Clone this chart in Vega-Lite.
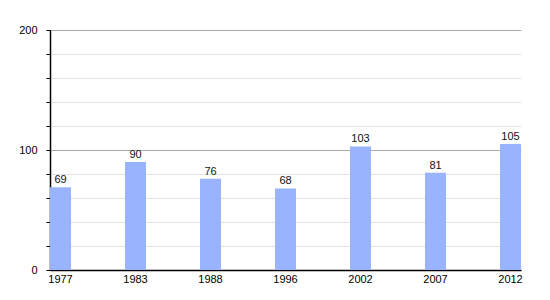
{
  "$schema": "https://vega.github.io/schema/vega-lite/v6.json",
  "autosize": {"type": "none"},
  "padding": {"left": 50, "top": 30, "right": 29, "bottom": 30},
  "width": 471,
  "height": 240,
  "background": "white",
  "config": {
    "view": {"stroke": null},
    "font": "Liberation Sans"
  },
  "data": {
    "values": [
      {"year": "1977", "value": 69},
      {"year": "1983", "value": 90},
      {"year": "1988", "value": 76},
      {"year": "1996", "value": 68},
      {"year": "2002", "value": 103},
      {"year": "2007", "value": 81},
      {"year": "2012", "value": 105}
    ]
  },
  "encoding": {
    "x": {
      "field": "year",
      "type": "nominal",
      "sort": null,
      "scale": {"paddingInner": 0.72, "paddingOuter": 0},
      "axis": {
        "title": null,
        "labelAngle": 0,
        "ticks": false,
        "labelPadding": 3,
        "labelFontSize": 11,
        "labelColor": "#000",
        "domainColor": "#000",
        "domainWidth": 1.5,
        "grid": false
      }
    },
    "y": {
      "field": "value",
      "type": "quantitative",
      "scale": {"domain": [0, 200], "nice": false},
      "axis": {
        "title": null,
        "values": [0, 20, 40, 60, 80, 100, 120, 140, 160, 180, 200],
        "labelExpr": "datum.value % 100 === 0 ? datum.label : ''",
        "tickSize": 4,
        "tickColor": "#000",
        "labelPadding": 9,
        "labelFontSize": 11,
        "labelColor": "#000",
        "domainColor": "#000",
        "domainWidth": 1.5,
        "grid": true,
        "gridColor": {"condition": {"test": "datum.value % 100 === 0", "value": "#aaaaaa"}, "value": "#e2e2e2"},
        "gridWidth": 1
      }
    }
  },
  "layer": [
    {"mark": {"type": "bar", "color": "#99b3ff"}},
    {
      "mark": {"type": "text", "baseline": "bottom", "dy": -2, "fontSize": 11, "color": "#111"},
      "encoding": {"text": {"field": "value", "type": "quantitative"}}
    }
  ]
}
